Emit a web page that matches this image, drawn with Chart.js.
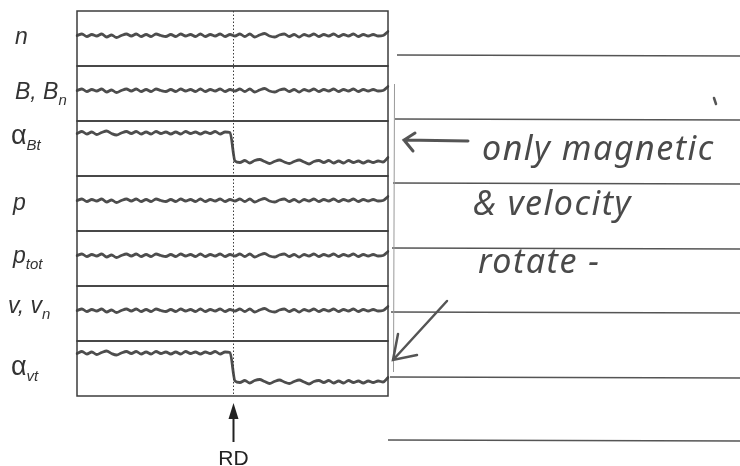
<!DOCTYPE html>
<html>
<head>
<meta charset="utf-8">
<script src="https://cdn.jsdelivr.net/npm/chart.js@4.4.1/dist/chart.umd.min.js"></script>
<style>
  html, body { margin: 0; padding: 0; background: #fff; }
  #wrap { position: relative; width: 740px; height: 466px; overflow: hidden; }
  #chart { position: absolute; left: 0; top: 0; }
  .lbl { position: absolute; font-family: "Liberation Sans", Arial, sans-serif; font-size: 23px; line-height: 23px; color: #333; font-style: italic; white-space: nowrap; }
  .lbl .g { font-style: normal; font-size: 27px; }
  .lbl sub { font-size: 15px; vertical-align: -6px; line-height: 0; }
  .hand { position: absolute; font-family: "Noto Sans", sans-serif; font-weight: 400; font-style: italic; color: #4a4a4a; font-size: 34px; line-height: 34px; letter-spacing: 1.5px; white-space: nowrap; }
</style>
</head>
<body>
<div id="wrap">
  <canvas id="chart" width="740" height="466"></canvas>
</div>
<script>
(function () {
  document.addEventListener("DOMContentLoaded", init)

  // traced wiggle of the quantities that do not change across the RD
  var flatTrace = [
    3, 4.5, 2, 4, 2.5, 4.5, 1.5, 3.5, 1, 3,
    4.5, 2.5, 4.5, 2, 4, 2, 4.5, 3, 2, 4,
    2, 4.5, 2.5, 4, 2, 4.5, 2, 4, 2.5, 4.5,
    2, 4, 2.5, 4.5, 2, 4.5, 1.5, 3.5, 5, 2.5,
    1.5, 3.5, 4.5, 2, 4, 1.5, 4, 2.5, 4.5, 2,
    4, 2.5, 4.5, 2, 4, 2.5, 4.5, 2, 4, 2.5,
    4, 2.5, 3, 7
  ]

  // traced wiggle of the rotation angles, with the jump at the RD
  var rotTrace = [
    15, 17, 14.5, 16.5, 14, 16, 17.5, 15, 13.5, 15.5,
    17, 15, 17, 14.5, 16.5, 14.5, 17, 15, 16.5, 14.5,
    16.5, 14.5, 17, 15, 16.5, 14.5, 16.5, 15, 17, 14.5,
    16.5, 16, -12.5, -14, -12, -14.5, -12, -11, -13, -15,
    -13, -11.5, -13.5, -15, -13, -11.5, -13.5, -15.5, -13, -12,
    -14, -12, -14.5, -12.5, -14.5, -12, -14, -12.5, -14.5, -12.5,
    -14, -12.5, -13.5, -9
  ]

  var panelNames = [['n', ''], ['B, B', 'n'], ['\u03b1', 'Bt'], ['p', ''], ['p', 'tot'], ['v, v', 'n'], ['\u03b1', 'vt']]
  var panelTraces = [flatTrace, flatTrace, rotTrace, flatTrace, flatTrace, flatTrace, rotTrace]
  var rdSample = 31.5
  var eventLabel = 'RD'
  var noteLines = ['only magnetic', '& velocity', 'rotate -']

  var samples = []
  for (var i = 1; i <= flatTrace.length; i++) samples.push(i)

  // layout
  var labelPos = [[15, 25], [15, 80], [11, 124], [13, 191], [13, 244], [8, 294], [11, 355]]
  var notePos = [[482, 130], [473, 185], [478, 243]]
  var ink = '#3c3c3c'

  function init() {
    var wrap = document.getElementById('wrap')

    var scales = { x: { type: 'category', display: false } }
    var datasets = []
    panelNames.forEach(function (name, k) {
      var id = 'y' + k
      scales[id] = {
        type: 'linear', position: 'left', stack: 'panels', stackWeight: 1,
        weight: panelNames.length - k, min: -27.5, max: 27.5,
        ticks: { display: false }, grid: { display: false, drawTicks: false }, border: { display: false }
      }
      datasets.push({
        label: name.join(''), yAxisID: id, data: panelTraces[k],
        borderColor: '#4d4d4d', borderWidth: 2.8, pointRadius: 0,
        cubicInterpolationMode: 'monotone', borderJoinStyle: 'round', borderCapStyle: 'round'
      })

      var el = document.createElement('div')
      el.className = 'lbl'
      var main = name[0] === '\u03b1' ? '<span class="g">\u03b1</span>' : name[0]
      el.innerHTML = main + (name[1] ? '<sub>' + name[1] + '</sub>' : '')
      el.style.left = labelPos[k][0] + 'px'
      el.style.top = labelPos[k][1] + 'px'
      wrap.appendChild(el)
    })

    noteLines.forEach(function (t, k) {
      var el = document.createElement('div')
      el.className = 'hand'
      el.textContent = t
      el.style.left = notePos[k][0] + 'px'
      el.style.top = notePos[k][1] + 'px'
      wrap.appendChild(el)
    })

    var sketchPlugin = {
      id: 'sketch',
      afterDatasetsDraw: function (chart) {
        var ctx = chart.ctx, area = chart.chartArea
        ctx.save()
        ctx.strokeStyle = ink
        ctx.lineWidth = 1.5
        panelNames.forEach(function (n, k) {
          var s = chart.scales['y' + k]
          ctx.strokeRect(area.left, s.top, area.right - area.left, s.bottom - s.top)
        })

        // dotted line at the discontinuity
        var xRd = Math.round(chart.scales.x.getPixelForValue(rdSample)) + 0.5
        ctx.lineWidth = 1
        ctx.setLineDash([1.5, 2])
        ctx.beginPath()
        ctx.moveTo(xRd, area.top)
        ctx.lineTo(xRd, area.bottom)
        ctx.stroke()
        ctx.setLineDash([])

        // RD arrow and label
        ctx.fillStyle = '#222'
        ctx.strokeStyle = '#222'
        ctx.lineWidth = 2
        ctx.beginPath()
        ctx.moveTo(xRd, area.bottom + 20)
        ctx.lineTo(xRd, area.bottom + 46)
        ctx.stroke()
        ctx.beginPath()
        ctx.moveTo(xRd, area.bottom + 7)
        ctx.lineTo(xRd - 5, area.bottom + 23)
        ctx.lineTo(xRd + 5, area.bottom + 23)
        ctx.closePath()
        ctx.fill()
        ctx.font = '21px "Liberation Sans", Arial, sans-serif'
        ctx.textAlign = 'center'
        ctx.textBaseline = 'alphabetic'
        ctx.fillText(eventLabel, xRd, area.bottom + 69)

        // notebook lines on the right
        ctx.strokeStyle = '#555'
        ctx.lineWidth = 1.4
        var rules = [[397, 55], [395, 119], [393, 183], [392, 248], [391, 312], [390, 377], [388, 440]]
        rules.forEach(function (r) {
          ctx.beginPath()
          ctx.moveTo(r[0], r[1])
          ctx.lineTo(740, r[1] + 1)
          ctx.stroke()
        })
        ctx.strokeStyle = '#999'
        ctx.lineWidth = 1
        ctx.beginPath()
        ctx.moveTo(394.5, 84)
        ctx.lineTo(393.5, 372)
        ctx.stroke()

        // hand-drawn arrows
        ctx.strokeStyle = '#555'
        ctx.lineCap = 'round'
        ctx.lineWidth = 3
        ctx.beginPath()
        ctx.moveTo(468, 141)
        ctx.lineTo(404, 140)
        ctx.moveTo(415, 133)
        ctx.lineTo(404, 140)
        ctx.lineTo(413, 151)
        ctx.stroke()
        ctx.lineWidth = 2.5
        ctx.beginPath()
        ctx.moveTo(447, 301)
        ctx.lineTo(393, 360)
        ctx.moveTo(398, 334)
        ctx.lineTo(393, 360)
        ctx.lineTo(417, 355)
        ctx.moveTo(714, 98)
        ctx.lineTo(716, 104)
        ctx.stroke()
        ctx.restore()
      }
    }

    new Chart(document.getElementById('chart').getContext('2d'), {
      type: 'line',
      data: { labels: samples, datasets: datasets },
      options: {
        responsive: false,
        animation: false,
        layout: { padding: { left: 77, right: 352, top: 11, bottom: 70 } },
        plugins: { legend: { display: false }, tooltip: { enabled: false } },
        scales: scales
      },
      plugins: [sketchPlugin]
    })
  }
})();
</script>
</body>
</html>
